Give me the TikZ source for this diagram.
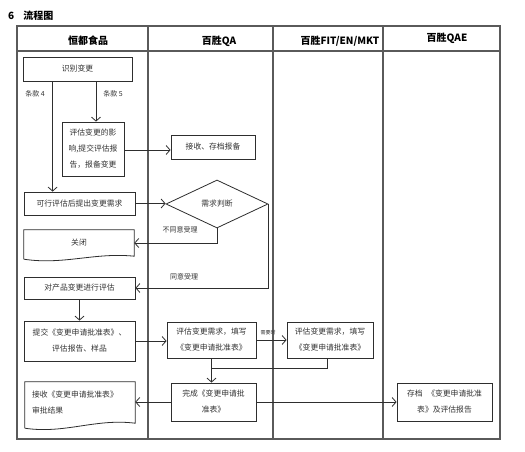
\documentclass[tikz,border=0pt]{standalone}
\usepackage{fontspec}
\setmainfont{Noto Sans CJK SC}
\usetikzlibrary{arrows.meta,shapes.geometric,calc}
\definecolor{linec}{HTML}{2E2E2E}
\definecolor{framec}{HTML}{5A5A5A}
\definecolor{txt}{HTML}{333333}
\begin{document}
\begin{tikzpicture}[x=1pt,y=-1pt,
  frame/.style={draw=framec, line width=1.2pt},
  boxline/.style={draw=linec, line width=0.8pt},
  box/.style={boxline, inner sep=0pt, align=center, text=txt, font=\fontsize{7.8}{16}\selectfont},
  nobox/.style={inner sep=0pt, align=center, text=txt, font=\fontsize{7.8}{16}\selectfont},
  arr/.style={draw=linec, line width=0.8pt, -{Straight Barb[length=4pt,width=9pt,line width=0.8pt]}},
  ln/.style={draw=linec, line width=0.8pt},
  lbl/.style={inner sep=0pt, text=txt, font=\fontsize{7}{8}\selectfont},
  hdr/.style={inner sep=0pt, text=black, font=\fontsize{10}{12}\selectfont\bfseries}]
\useasboundingbox (0,0) rectangle (525,452);
\fill[white] (0,0) rectangle (525,452);

% title
\node[hdr, anchor=west] (ttl) at (8,16) {6\hspace{9pt}流程图};

% table
\draw[frame] (17,26) rectangle (500,439);
\draw[frame] (17,51) -- (500,51);
\draw[frame] (148,26) -- (148,439);
\draw[frame] (273,26) -- (273,439);
\draw[frame] (383,26) -- (383,439);
\node[hdr] (h1) at (88,41) {恒都食品};
\node[hdr] (h2) at (219,41) {百胜QA};
\node[hdr] (h3) at (340,41) {百胜FIT/EN/MKT};
\node[hdr] (h4) at (447,38) {百胜QAE};

% nodes
\node[box, minimum width=109pt, minimum height=24pt] (id) at (77.5,69) {识别变更};
\node[box, minimum width=62pt, minimum height=54pt] (eval) at (93,149) {评估变更的影\\响,提交评估报\\告，报备变更};
\node[box, minimum width=84pt, minimum height=24pt] (recv) at (213,147) {接收、存档报备};
\node[boxline, shape=diamond, inner sep=0pt, minimum width=102pt, minimum height=48pt, text=txt, font=\fontsize{7.8}{16}\selectfont] (dec) at (217,204) {需求判断};
\node[box, minimum width=111pt, minimum height=23pt] (feas) at (79.5,203.5) {可行评估后提出变更需求};
\node[nobox, minimum width=110pt, minimum height=26pt] (close) at (79,243) {关闭};
\node[box, minimum width=111pt, minimum height=22pt] (prod) at (79.5,288) {对产品变更进行评估};
\node[box, minimum width=111pt, minimum height=40pt] (sub) at (79.5,341) {提交《变更申请批准表》、\\评估报告、样品};
\node[box, minimum width=89pt, minimum height=36pt] (qa1) at (211.5,340) {评估变更需求，填写\\《变更申请批准表》};
\node[box, minimum width=86pt, minimum height=36pt] (fit) at (330,340) {评估变更需求，填写\\《变更申请批准表》};
\node[box, minimum width=85pt, minimum height=38pt] (done) at (213.5,402) {完成《变更申请批\\准表》};
\node[nobox, align=left, text width=96pt, inner xsep=7pt, minimum height=40pt] (rcv2) at (80,402) {接收《变更申请批准表》\\审批结果};
\node[box, minimum width=95pt, minimum height=38pt] (arch) at (444.5,402) {存档\hspace{0.6em}《变更申请批准\\表》及评估报告};

% document shapes
\draw[boxline] ([yshift=-3pt]close.south west) -- (close.north west) -- (close.north east) -- ([yshift=0pt]close.south east)
  .. controls ([xshift=-40pt,yshift=4pt]close.south east) and ([xshift=40pt,yshift=-9pt]close.south west) .. ([yshift=-3pt]close.south west);
\draw[boxline] ([yshift=-6pt]rcv2.south west) -- (rcv2.north west) -- (rcv2.north east) -- ([yshift=-1pt]rcv2.south east)
  .. controls ([xshift=-40pt,yshift=4pt]rcv2.south east) and ([xshift=40pt,yshift=-12pt]rcv2.south west) .. ([yshift=-6pt]rcv2.south west);

% connectors
\draw[arr] ([xshift=30pt]id.south west) -- ([xshift=30pt]id.south west |- feas.north);
\draw[arr] ([xshift=3pt]eval.north |- id.south) -- ([xshift=3pt]eval.north);
\node[lbl] (c4) at (35,94) {条款 4};
\node[lbl] (c5) at (113,94) {条款 5};
\draw[arr] ([yshift=-1pt]eval.east) -- ([yshift=-1pt]eval.east -| recv.west);
\draw[arr] (feas.east) -- (feas.east -| dec.west);
\draw[arr] (dec.south) -- (dec.south |- close.east) -- (close.east);
\node[lbl] (no) at (180,230) {不同意受理};
\draw[arr] (dec.east) -- (dec.east |- prod.east) -- (prod.east);
\node[lbl] (yes) at (184,277) {同意受理};
\draw[arr] (prod.south) -- (sub.north);
\draw[arr] (sub.east) -- (sub.east -| qa1.west);
\draw[arr] (qa1.east) -- (qa1.east -| fit.west);
\node[lbl, font=\fontsize{5}{6}\selectfont] (need) at (268,333) {需要时};
\draw[arr] (qa1.south) -- (qa1.south |- done.north);
\draw[ln] ([xshift=-3pt]fit.south) -- ([xshift=-3pt,yshift=-10pt]fit.south) -- ([yshift=-10pt]fit.south -| qa1.south);
\draw[arr] (done.west) -- (done.west -| rcv2.east);
\draw[arr] (done.east) -- (arch.west);
\end{tikzpicture}
\end{document}
